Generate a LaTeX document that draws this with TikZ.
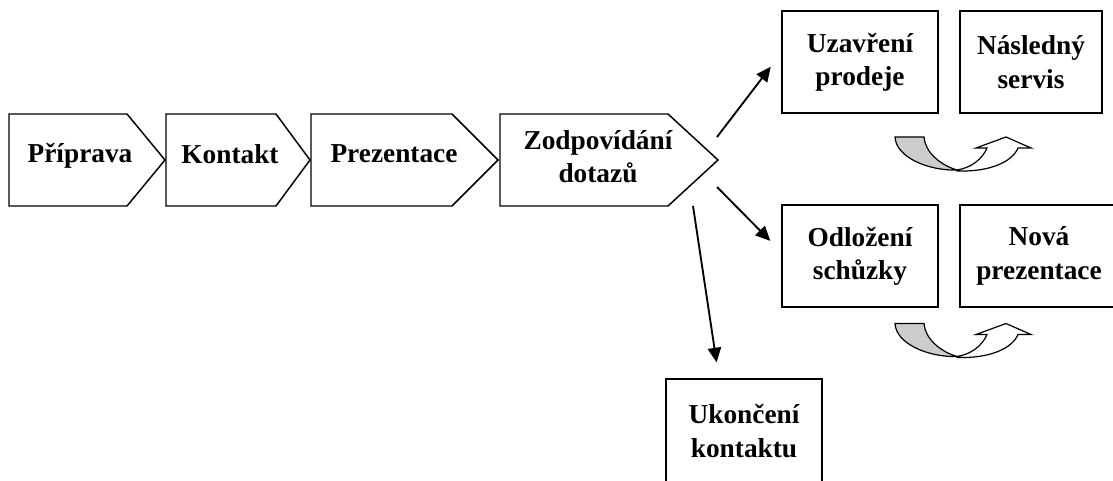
\documentclass[tikz,border=0pt]{standalone}
\usepackage{fontspec}
\setmainfont{Liberation Serif}
\usetikzlibrary{arrows.meta,calc}
\tikzset{
	chev/.style={draw, line width=1.1pt, line join=miter},
	lbl/.style={font=\bfseries\fontsize{20.5}{25}\selectfont, align=center, inner sep=0pt},
	box/.style={draw, line width=1.1pt, minimum width=117pt, minimum height=76.5pt,
			font=\bfseries\fontsize{20.5}{25}\selectfont, align=center},
	arr/.style={line width=1.4pt, -{Triangle[length=11pt,width=10pt]}},
	bendarrow/.pic={
			\draw[line width=0.9pt, fill=black!20] (0,0) -- (29,0) .. controls (30,15) and (45,28) .. (62,33)
				.. controls (35,34) and (1,21) .. (0,0) -- cycle;
			\draw[line width=0.9pt, fill=white] (62,34) .. controls (95,35) and (117,25) .. (123,11)
				-- (136,11) -- (111,0) -- (81,11) -- (92,11) .. controls (87,23) and (75,31) .. (62,33) -- cycle;
		}
}

\begin{document}
\begin{tikzpicture}[x=0.75pt, y=-0.75pt]
	\useasboundingbox (0,0) rectangle (1113,481);
	% chevrons
	\draw[chev] (9,114) -- (127,114) -- (165,160) -- (127,206) -- (9,206) -- cycle;
	\draw[chev] (166,114) -- (276,114) -- (310,160) -- (276,206) -- (166,206) -- cycle;
	\draw[chev] (311,114) -- (452,114) -- (498,160) -- (452,206) -- (311,206) -- cycle;
	\draw[chev] (500,114) -- (668,114) -- (718,160) -- (668,206) -- (500,206) -- cycle;
	\node[lbl] (priprava) at (80,156) {Příprava};
	\node[lbl] (kontakt) at (230,154) {Kontakt};
	\node[lbl] (prezentace) at (394,154) {Prezentace};
	\node[lbl] (dotazy) at (598,157) {Zodpovídání\\dotazů};

	% boxes
	\node[box] (uzavreni) at (860,62) {Uzavření\\prodeje};
	\node[box, minimum width=106.5pt] (servis) at (1031,62) {Následný\\servis};
	\node[box] (odlozeni) at (860,256) {Odložení\\schůzky};
	\node[box, minimum width=118.5pt] (nova) at (1039,256) {Nová\\prezentace};
	\node[box, minimum height=78pt] (ukonceni) at (744,431) {Ukončení\\kontaktu};

	% arrows
	\coordinate (z1) at (717,137);
	\coordinate (z2) at (717,187);
	\coordinate (z3) at (693,206);
	\draw[arr, shorten >=13pt] (z1) -- ($(uzavreni.west)+(0,-9)$);
	\draw[arr, shorten >=11.7pt] (z2) -- ($(odlozeni.west)+(0,-4)$);
	\draw[arr, shorten >=12pt] (z3) -- ($(ukonceni.north)+(-25,0)$);

	\pic at (895,137) {bendarrow};
	\pic at (895,323.5) {bendarrow};
\end{tikzpicture}
\end{document}
